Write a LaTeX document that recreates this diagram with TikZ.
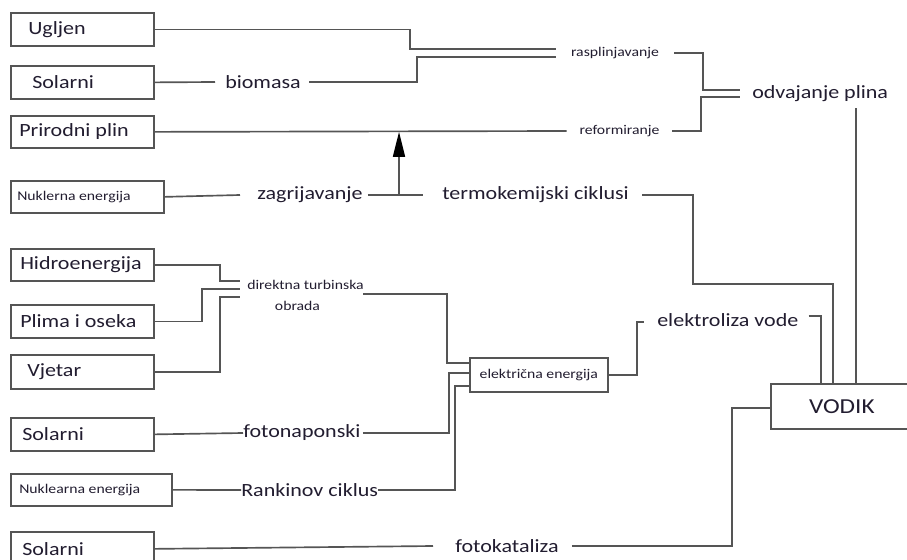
\documentclass[tikz,border=0pt]{standalone}
\usepackage{fontspec}
\setmainfont[FakeStretch=1.18]{Carlito}
\usetikzlibrary{arrows.meta}
\newcommand\PX{*0.75pt}
\newcommand\lgf{\fontsize{14}{16}\selectfont}
\newcommand\smf{\fontsize{10}{12}\selectfont}
\definecolor{ln}{HTML}{555555}
\definecolor{tx}{HTML}{221D30}
\tikzset{
 conn/.style={draw=ln, line width=1.25pt},
 srcb/.style={draw=ln, line width=1.3pt, inner sep=0pt, anchor=north west},
 lbl/.style={inner sep=0pt, anchor=west, text=tx, font=\lgf},
 slbl/.style={inner sep=0pt, text=tx, font=\smf},
}
\newcommand\srcbox[7]{%
 \node[srcb, minimum width=#4\PX, minimum height=#5\PX] (#1) at (#2,#3) {};
 \node[lbl] (#1t) at ([xshift=#6\PX]#1.west) {#7};}
\begin{document}
\begin{tikzpicture}[x=0.75pt,y=-0.75pt]
\fill[white] (0,0) rectangle (907,560);
\useasboundingbox (0,0) rectangle (907,560);
% source boxes
\srcbox{bUg}{10}{12}{143}{33}{18}{Ugljen}
\srcbox{bSo1}{10}{65}{143}{33}{22}{Solarni}
\srcbox{bPp}{10}{115}{143}{32}{9}{Prirodni plin}
\srcbox{bNu1}{10}{180}{153}{32}{7}{\smf Nuklerna energija}
\srcbox{bHi}{10}{248}{143}{32}{10}{Hidroenergija}
\srcbox{bPl}{10}{304}{143}{33}{10}{Plima i oseka}
\srcbox{bVj}{10}{354}{143}{34}{17}{Vjetar}
\srcbox{bSo2}{10}{417}{143}{33}{12}{Solarni}
\srcbox{bNu2}{10}{473}{161}{32}{9}{\smf Nuklearna energija}
\srcbox{bSo3}{10}{531}{143}{34}{12}{Solarni}
% process labels
\node[lbl] (tBio) at (225,82) {biomasa};
\node[slbl, minimum width=118\PX] (rasp) at (615,53) {rasplinjavanje};
\node[slbl, minimum width=105\PX] (ref) at (619.5,131) {reformiranje};
\node[lbl, inner xsep=12\PX, minimum height=28\PX] (odv) at (740,94) {odvajanje plina};
\node[lbl] (tZag) at (257,195) {zagrijavanje};
\node[lbl] (tTerm) at (442,195) {termokemijski ciklusi};
\node[slbl, anchor=west] (tDir) at (247,285) {direktna turbinska};
\node[slbl] (tObr) at (297.5,306) {obrada};
\node[lbl] (tFot) at (243,433) {fotonaponski};
\node[lbl] (tRan) at (241,490) {Rankinov ciklus};
\node[lbl] (tFk) at (455,546) {fotokataliza};
\node[lbl] (tElv) at (657,320) {elektroliza vode};
\node[draw=ln, line width=1.25pt, minimum width=138\PX, minimum height=34\PX, anchor=north west, font=\smf, text=tx, inner sep=0pt] (el) at (469,357) {električna energija};
\node[srcb, minimum width=142\PX, minimum height=45\PX, font=\fontsize{16}{18}\selectfont, text=tx] (vod) at (770,383) {VODIK};
% connectors
\draw[conn] (bUg.east) -| (410,49) -- (rasp.west |- 0,49);
\draw[conn] (bSo1.east) -- ([xshift=-10\PX]tBio.west);
\draw[conn] ([xshift=8\PX]tBio.east) -| (417,57) -- (rasp.west |- 0,57);
\draw[conn] (bPp.east) -- (ref.west);
\draw[conn] (rasp.east) -| (703,90) -- (odv.west |- 0,90);
\draw[conn] (ref.east) -| (701,97) -- (odv.west |- 0,97);
\draw[conn] (odv.south -| 856,0) -- (vod.north -| 856,0);
\draw[conn] (bNu1.east) -- ([xshift=-17\PX]tZag.west);
\draw[conn] ([xshift=5\PX]tZag.east) -- ([xshift=-19\PX]tTerm.west);
\coordinate (zagJ) at (399,195);
\draw[conn, -{Triangle[length=25\PX,width=12\PX,color=black]}] (zagJ) -- (zagJ |- bPp.east);
\draw[conn] ([xshift=13\PX]tTerm.east) -| (693,284) -| (vod.north -| 833,0);
\draw[conn] (bHi.east) -| (220,281) -- ([xshift=-7\PX]tDir.west |- 0,281);
\draw[conn] (bPl.east) -| (202,289) -- ([xshift=-7\PX]tDir.west |- 0,289);
\draw[conn] (bVj.east) -| (220,297) -- ([xshift=-7\PX]tDir.west |- 0,297);
\coordinate (dirOut) at (363,294);
\draw[conn] (dirOut) -| (447,363) -- (el.west |- 0,363);
\draw[conn] (bSo2.east) -- (tFot.west);
\draw[conn] ([xshift=2\PX]tFot.east) -| (449,373) -- (el.west |- 0,373);
\draw[conn] (bNu2.east) -- (tRan.west);
\draw[conn] (tRan.east) -| (455,386) -- (el.west |- 0,386);
\draw[conn] (el.east) -| (637,322) -- ([xshift=-13\PX]tElv.west |- 0,322);
\draw[conn] ([xshift=10\PX]tElv.east |- 0,316) -| (vod.north -| 821,0);
\draw[conn] (bSo3.east) -- ([xshift=-22\PX]tFk.west);
\draw[conn] ([xshift=13\PX]tFk.east) -| (732,408) -- (vod.west |- 0,408);
\end{tikzpicture}
\end{document}
